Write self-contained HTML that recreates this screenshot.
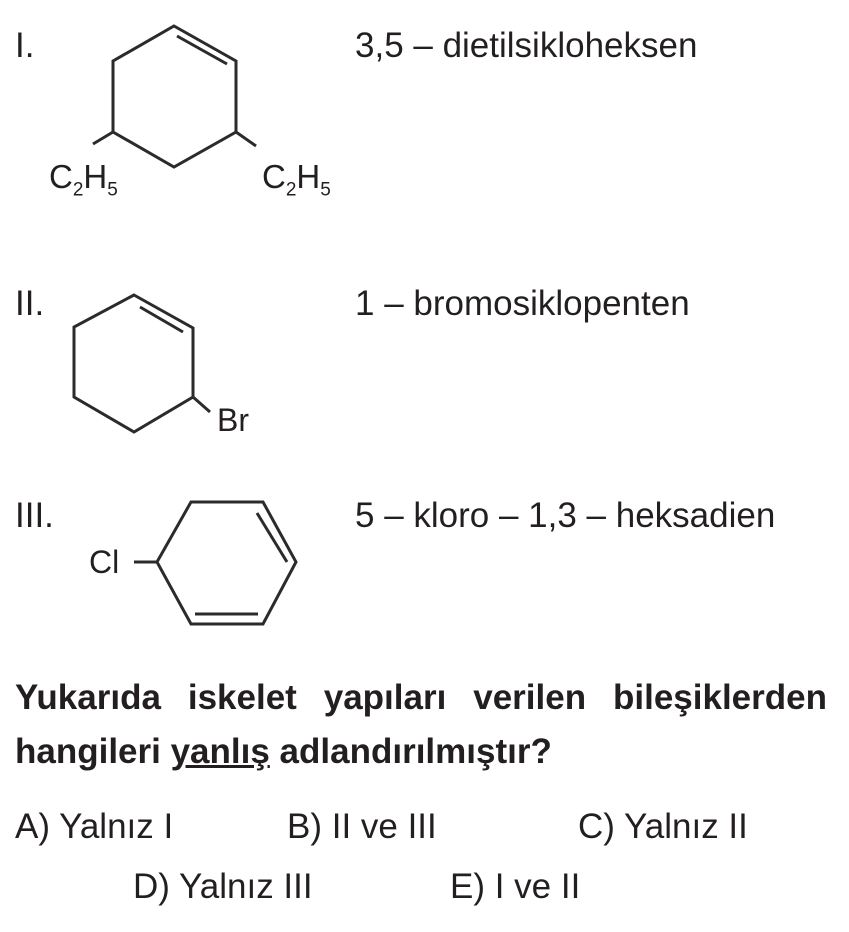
<!DOCTYPE html>
<html><head><meta charset="utf-8"><style>
body{margin:0;background:#fff;width:849px;height:932px;position:relative;overflow:hidden;font-family:"Liberation Sans",sans-serif;color:#231f20}
.t{position:absolute;font-size:35px;white-space:nowrap;line-height:1}
.b{font-weight:bold}
</style></head><body>
<svg width="849" height="932" style="position:absolute;left:0;top:0" fill="none" stroke="#2b2b2b" stroke-width="3">
<polygon points="174,26 236,61 236,132 174,167 113,132 113,61"/>
<line x1="177" y1="36" x2="227" y2="64"/>
<line x1="113" y1="132" x2="93" y2="144"/>
<line x1="236" y1="132" x2="256" y2="146"/>
<polygon points="134,295 193,328 193,397 134,432 74,397 74,327"/>
<line x1="140" y1="307" x2="183" y2="332"/>
<line x1="193" y1="397" x2="210" y2="412"/>
<polygon points="191,502 263,502 296,562 263,624 191,624 157,562"/>
<line x1="257" y1="513" x2="287" y2="562"/>
<line x1="195" y1="614" x2="258" y2="614"/>
<line x1="134" y1="562" x2="157" y2="562"/>
</svg>
<div class="t" style="left:15px;top:28px">I.</div>
<div class="t" style="left:49px;top:160px;font-size:33px">C<sub style="font-size:19px">2</sub>H<sub style="font-size:19px">5</sub></div>
<div class="t" style="left:262px;top:160px;font-size:33px">C<sub style="font-size:19px">2</sub>H<sub style="font-size:19px">5</sub></div>
<div class="t" style="left:355px;top:28px">3,5 – dietilsikloheksen</div>
<div class="t" style="left:15px;top:286px">II.</div>
<div class="t" style="left:217px;top:404px;font-size:32px">Br</div>
<div class="t" style="left:355px;top:286px">1 – bromosiklopenten</div>
<div class="t" style="left:15px;top:498px">III.</div>
<div class="t" style="left:89px;top:546px;font-size:32px">Cl</div>
<div class="t" style="left:355px;top:498px">5 – kloro – 1,3 – heksadien</div>
<div class="t b" style="left:15px;top:680px;width:812px;text-align:justify;text-align-last:justify">Yukarıda iskelet yapıları verilen bileşiklerden</div>
<div class="t b" style="left:15px;top:734px">hangileri <u>yanlış</u> adlandırılmıştır?</div>
<div class="t" style="left:15px;top:809px">A) Yalnız I</div>
<div class="t" style="left:287px;top:809px">B) II ve III</div>
<div class="t" style="left:578px;top:809px">C) Yalnız II</div>
<div class="t" style="left:133px;top:869px">D) Yalnız III</div>
<div class="t" style="left:450px;top:869px">E) I ve II</div>
</body></html>
